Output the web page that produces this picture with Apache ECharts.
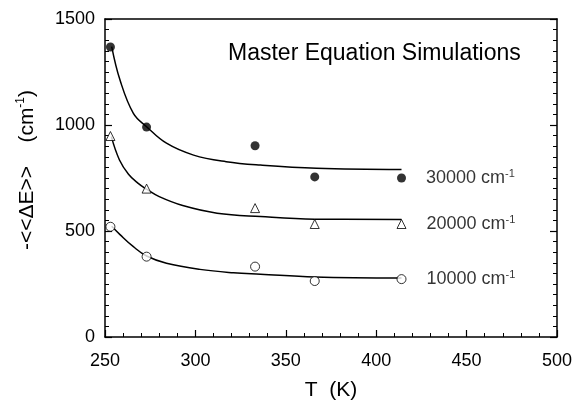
<!DOCTYPE html>
<html>
<head>
<meta charset="utf-8">
<script src="https://cdn.jsdelivr.net/npm/echarts@6/dist/echarts.min.js"></script>
<style>
html, body { margin: 0; padding: 0; background: #fff; }
#chart { width: 579px; height: 404px; }
</style>
</head>
<body>
<div id="chart"></div>
<script>
// simulation points, T (K)
var temps = [253, 273, 333, 366, 414];
var pts30000 = [1368, 990, 902, 755, 750];
var pts20000 = [948, 700, 608, 533, 533];
var pts10000 = [520, 379, 332, 264, 273];

// fitted curves
var fitT30000 = [253.7, 258.3, 265.7, 273, 284, 299, 317, 336, 367, 414];
var fit30000 = [1370, 1212, 1055, 992, 914, 858, 827, 811, 796, 790];
var fitT20000 = [253.5, 258, 263, 268, 273, 280, 293, 312, 336, 366, 414];
var fit20000 = [945, 835, 768, 727, 697, 662, 620, 584, 568, 556, 554];
var fitT10000 = [253.7, 258.3, 265.7, 273, 284, 302.5, 321, 336, 366, 414];
var fit10000 = [522, 483, 426, 382, 348, 319, 303, 296, 283, 278];

var energyLabels = ['30000', '20000', '10000'];
var xTicks = [250, 300, 350, 400, 450, 500];
var yTicks = [0, 500, 1000, 1500];

var font = '"Liberation Sans", Arial, sans-serif';

function pairs(xs, ys) {
    return xs.map(function (x, i) { return [x, ys[i]]; });
}

function pointData(ys, label) {
    var d = pairs(temps, ys);
    var last = d.length - 1;
    d[last] = {
        value: d[last],
        label: {
            show: true,
            position: 'right',
            distance: 20,
            formatter: '{n|' + label + ' cm}{s|-1}',
            rich: {
                n: { fontSize: 18, color: '#000', fontFamily: font, lineHeight: 20 },
                s: { fontSize: 11, color: '#000', fontFamily: font, verticalAlign: 'top', lineHeight: 12 }
            }
        }
    };
    return d;
}

function fitLine(xs, ys) {
    return {
        type: 'line',
        data: pairs(xs, ys),
        showSymbol: false,
        smooth: 0.4,
        lineStyle: { color: '#000', width: 1.5 },
        z: 2,
        silent: true
    };
}

function tickStyle(len) {
    return { show: true, inside: true, length: len, lineStyle: { color: '#000', width: 1.2 } };
}

function minorStyle(n) {
    return { show: true, splitNumber: n, length: 4, lineStyle: { color: '#000', width: 1 } };
}

var myChart = echarts.init(document.getElementById('chart'));

var option = {
    animation: false,
    backgroundColor: '#fff',
    title: {
        text: 'Master Equation Simulations',
        left: 223,
        top: 37,
        textStyle: { fontSize: 23, fontWeight: 'normal', color: '#000', fontFamily: font }
    },
    grid: { left: 105, right: 22, top: 19, bottom: 67, outerBoundsMode: 'none' },
    xAxis: [
        {
            type: 'value',
            min: xTicks[0],
            max: xTicks[xTicks.length - 1],
            interval: 50,
            position: 'bottom',
            axisLine: { show: true, onZero: false, lineStyle: { color: '#000', width: 1.5 } },
            axisTick: tickStyle(7),
            minorTick: minorStyle(5),
            splitLine: { show: false },
            axisLabel: { fontSize: 18, color: '#000', fontFamily: font, margin: 15 },
            name: 'T  (K)',
            nameLocation: 'middle',
            nameGap: 43,
            nameTextStyle: { fontSize: 21, color: '#000', fontFamily: font }
        },
        {
            type: 'value',
            min: xTicks[0],
            max: xTicks[xTicks.length - 1],
            position: 'top',
            axisLine: { show: true, onZero: false, lineStyle: { color: '#000', width: 1.5 } },
            axisTick: { show: false },
            axisLabel: { show: false },
            splitLine: { show: false }
        }
    ],
    yAxis: [
        {
            type: 'value',
            min: yTicks[0],
            max: yTicks[yTicks.length - 1],
            interval: 500,
            position: 'left',
            axisLine: { show: true, onZero: false, lineStyle: { color: '#000', width: 1.5 } },
            axisTick: tickStyle(7),
            minorTick: minorStyle(10),
            splitLine: { show: false },
            axisLabel: {
                fontSize: 18, color: '#000', fontFamily: font, margin: 10,
                formatter: function (v) { return String(v); }
            },
            name: '{n|-<<ΔE>>    (cm}{s|-1}{n|)}',
            nameLocation: 'middle',
            nameRotate: 90,
            nameGap: 66,
            nameTextStyle: {
                padding: [0, 0, 0, 16],
                rich: {
                    n: { fontSize: 21, color: '#000', fontFamily: font, lineHeight: 24 },
                    s: { fontSize: 12, color: '#000', fontFamily: font, verticalAlign: 'top', lineHeight: 14 }
                }
            }
        },
        {
            type: 'value',
            min: yTicks[0],
            max: yTicks[yTicks.length - 1],
            interval: 500,
            position: 'right',
            axisLine: { show: true, onZero: false, lineStyle: { color: '#000', width: 1.5 } },
            axisTick: tickStyle(7),
            minorTick: minorStyle(10),
            splitLine: { show: false },
            axisLabel: { show: false }
        }
    ],
    series: [
        fitLine(fitT30000, fit30000),
        fitLine(fitT20000, fit20000),
        fitLine(fitT10000, fit10000),
        {
            type: 'scatter',
            data: pointData(pts30000, energyLabels[0]),
            symbol: 'circle',
            symbolSize: 9,
            itemStyle: { color: '#000' },
            z: 3
        },
        {
            type: 'scatter',
            data: pointData(pts20000, energyLabels[1]),
            symbol: 'triangle',
            symbolSize: 9,
            itemStyle: { color: '#fff', borderColor: '#000', borderWidth: 1 },
            z: 3
        },
        {
            type: 'scatter',
            data: pointData(pts10000, energyLabels[2]),
            symbol: 'circle',
            symbolSize: 9,
            itemStyle: { color: '#fff', borderColor: '#000', borderWidth: 1 },
            z: 3
        }
    ]
};

myChart.setOption(option);
</script>
</body>
</html>
